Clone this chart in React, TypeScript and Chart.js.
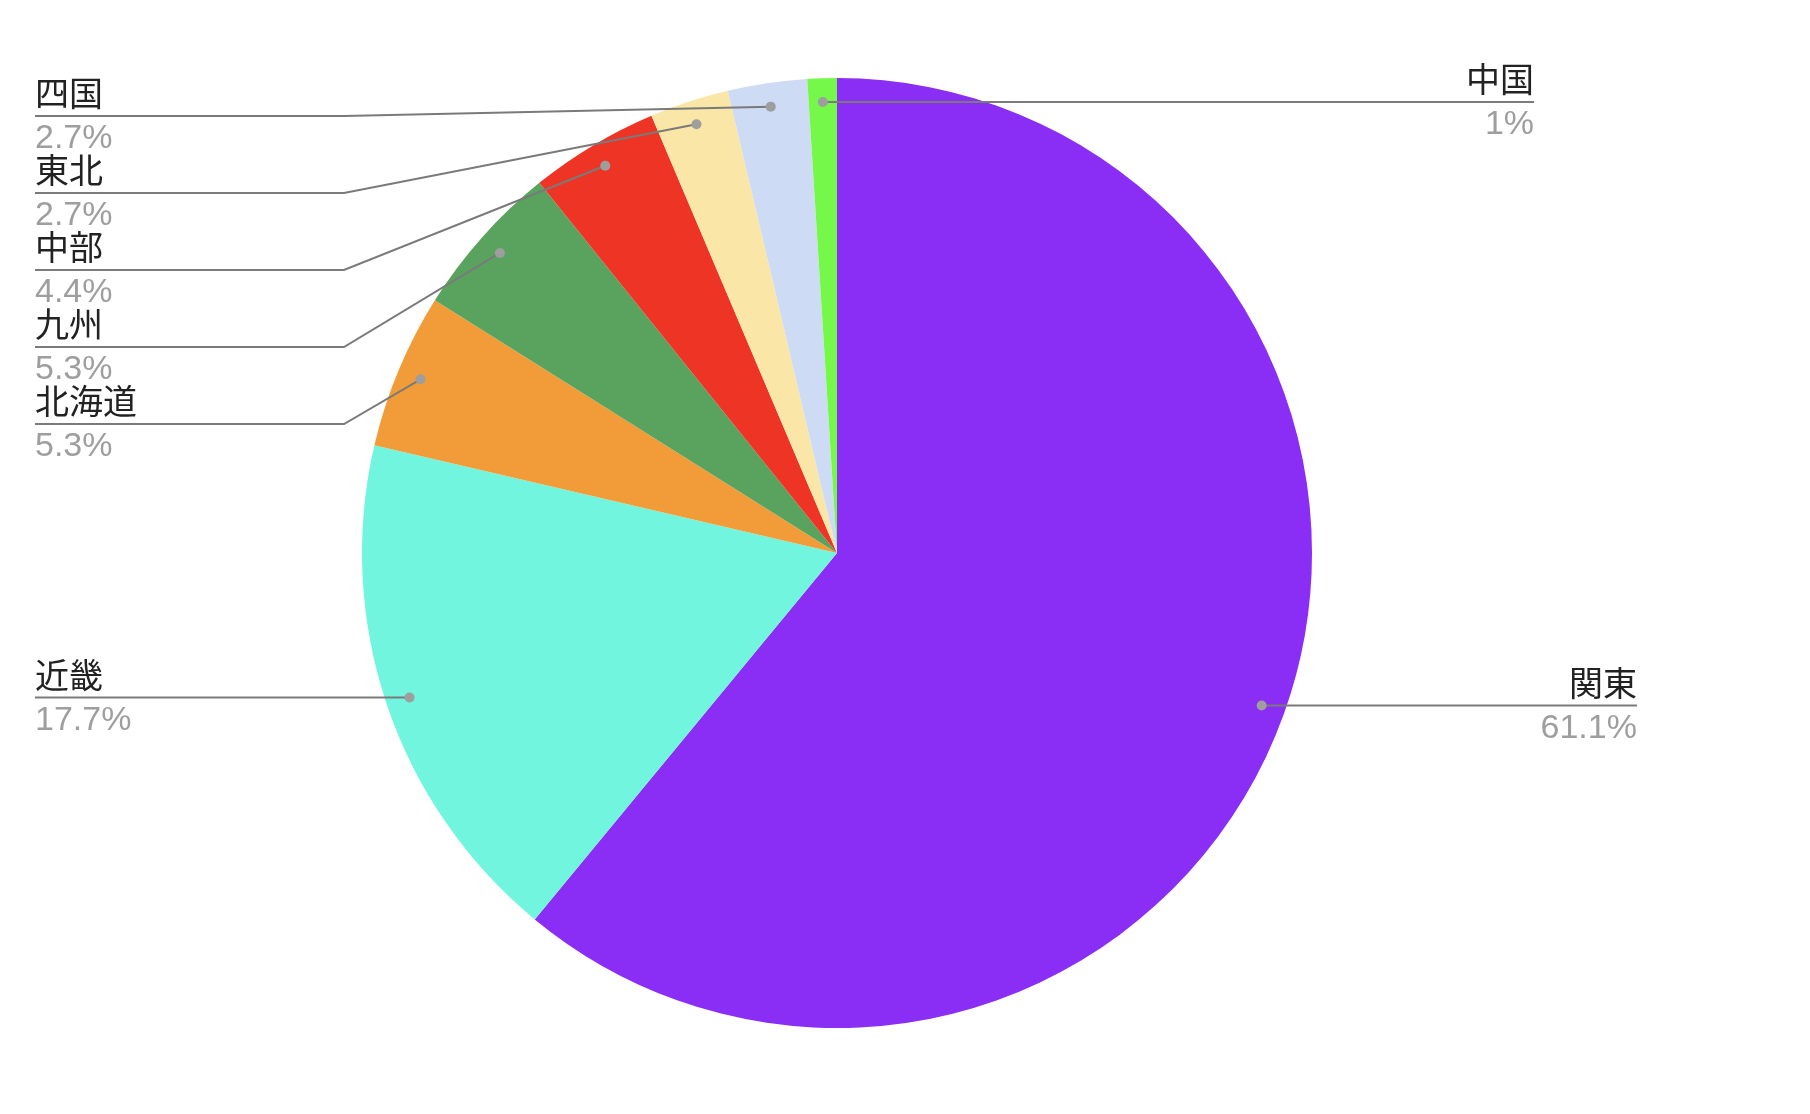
import React, { useEffect, useRef } from "react";
import { Chart, registerables } from "chart.js";

Chart.register(...registerables);

const regions = ["関東", "近畿", "北海道", "九州", "中部", "東北", "四国", "中国"];
const shares = [61.1, 17.7, 5.3, 5.3, 4.4, 2.7, 2.7, 1];
const sliceColors = [
  "#8A2EF5",
  "#72F5DF",
  "#F19C38",
  "#5AA35E",
  "#EE3425",
  "#FAE6A7",
  "#CDDBF5",
  "#76F84B",
];

const FONT = '"Liberation Sans", Arial, "Noto Sans CJK JP", sans-serif';

const leaderLabels = {
  id: "leaderLabels",
  afterDatasetsDraw(chart: any) {
    const ctx = chart.ctx as CanvasRenderingContext2D;
    const meta = chart.getDatasetMeta(0);
    const labels = chart.data.labels as string[];
    const values = chart.data.datasets[0].data as number[];
    const area = chart.chartArea;
    const GAP = 77;
    const LEFT_X = 35;
    const minY = area.top + 38;

    const items = meta.data.map((arc: any, i: number) => {
      const p = arc.getProps(["x", "y", "startAngle", "endAngle", "outerRadius"], true);
      const mid = (p.startAngle + p.endAngle) / 2;
      const ax = p.x + Math.cos(mid) * p.outerRadius * 0.95;
      const ay = p.y + Math.sin(mid) * p.outerRadius * 0.95;
      const side = ax < p.x - p.outerRadius * 0.05 ? "left" : "right";
      return { i, cx: p.x, cy: p.y, r: p.outerRadius, ax, ay, ly: ay, side };
    });

    ["left", "right"].forEach((side) => {
      const list = items.filter((it: any) => it.side === side).sort((a: any, b: any) => a.ay - b.ay);
      if (!list.length) return;
      const layout = (headY: number) => {
        list[0].ly = headY;
        for (let k = 1; k < list.length; k++) {
          list[k].ly = Math.max(list[k].ay, list[k - 1].ly + GAP);
        }
      };
      layout(list[0].ay);
      if (list.length > 1 && list[1].ay < list[0].ay + GAP && list[0].ly < minY) {
        layout(minY);
      }
    });

    ctx.save();
    items.forEach((it: any) => {
      const r = it.r;
      const A = r * 1.71;
      const B = r * 1.85;
      const dy = it.ly - it.cy;
      const ring = A * Math.sqrt(Math.max(0, 1 - (dy / B) * (dy / B)));
      const pushed = Math.abs(it.ly - it.ay) > 0.5;
      ctx.strokeStyle = "#7a7a7a";
      ctx.lineWidth = 2;
      ctx.beginPath();
      let textX: number;
      if (it.side === "left") {
        textX = LEFT_X;
        const elbowX = it.cx - r - 18;
        ctx.moveTo(textX, it.ly);
        if (pushed) ctx.lineTo(elbowX, it.ly);
        ctx.lineTo(it.ax, it.ay);
      } else {
        textX = it.cx + ring;
        const elbowX = it.cx + r + 18;
        ctx.moveTo(it.ax, it.ay);
        if (pushed) ctx.lineTo(elbowX, it.ly);
        ctx.lineTo(textX, it.ly);
      }
      ctx.stroke();

      ctx.fillStyle = "#9e9e9e";
      ctx.beginPath();
      ctx.arc(it.ax, it.ay, 5, 0, Math.PI * 2);
      ctx.fill();

      ctx.textAlign = it.side === "left" ? "left" : "right";
      ctx.textBaseline = "alphabetic";
      ctx.font = `34px ${FONT}`;
      ctx.fillStyle = "#222222";
      ctx.fillText(labels[it.i], textX, it.ly - 10);
      ctx.fillStyle = "#9e9e9e";
      ctx.fillText(`${values[it.i]}%`, textX, it.ly + 32);
    });
    ctx.restore();
  },
};

export default function App() {
  const canvasRef = useRef<HTMLCanvasElement | null>(null);

  useEffect(() => {
    if (!canvasRef.current) return;
    const chart = new Chart(canvasRef.current, {
      type: "pie",
      data: {
        labels: regions,
        datasets: [
          {
            data: shares,
            backgroundColor: sliceColors,
            borderWidth: 0,
          },
        ],
      },
      options: {
        responsive: false,
        animation: false,
        layout: { padding: { top: 78, bottom: 86, left: 362, right: 498 } },
        plugins: {
          legend: { display: false },
          tooltip: { enabled: false },
        },
      },
      plugins: [leaderLabels],
    });
    return () => chart.destroy();
  }, []);

  return (
    <div style={{ position: "absolute", left: 0, top: 0, width: 1810, height: 1114, background: "#ffffff" }}>
      <canvas ref={canvasRef} width={1810} height={1114} />
    </div>
  );
}
